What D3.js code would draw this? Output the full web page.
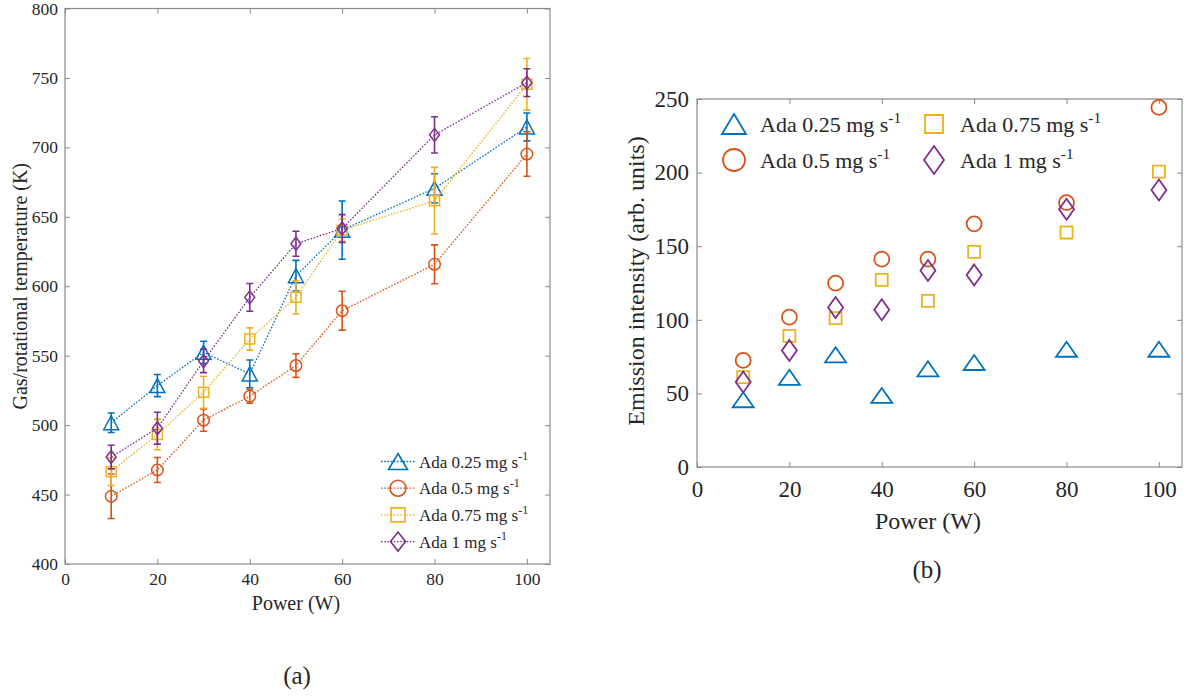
<!DOCTYPE html>
<html>
<head>
<meta charset="utf-8">
<script src="https://cdn.jsdelivr.net/npm/d3@7"></script>
<style>
  html, body { margin: 0; padding: 0; background: #ffffff; }
  svg text { font-family: "Liberation Serif", "Times New Roman", serif; fill: #262626; }
</style>
</head>
<body>
<svg id="fig" width="1190" height="697"></svg>
<script>
// Discharge power settings (W)
const powers = [10, 20, 30, 40, 50, 60, 80, 100];

// Adamantane feed rates (legend labels)
const seriesNames = ["Ada 0.25 mg s", "Ada 0.5 mg s", "Ada 0.75 mg s", "Ada 1 mg s"];
const seriesColors = ["#0072BD", "#D95319", "#EDB120", "#7E2F8E"];
const seriesShapes = ["triangle", "circle", "square", "diamond"];

// (a) Gas/rotational temperature (K) and its uncertainty
const temp025 = [501.7, 528.5, 552.4, 536.9, 607.6, 640.4, 670.5, 714.7];
const temp025Err = [7, 8, 8, 10, 11, 21, 10.5, 10];
const temp05 = [448.8, 467.7, 503.6, 520.8, 542.9, 582.4, 615.8, 695.2];
const temp05Err = [16, 9, 8, 5, 8.5, 14, 14, 16];
const temp075 = [466.5, 493.3, 523.7, 562.0, 592.0, 640.4, 661.6, 745.4];
const temp075Err = [10, 11, 11.5, 8, 12, 8, 24, 18.6];
const temp1 = [477.0, 497.8, 546.2, 592.0, 630.6, 641.6, 709.0, 746.6];
const temp1Err = [8.5, 11.5, 8.4, 10, 9, 10, 13, 10];

// (b) Emission intensity (arb. units)
const emis025 = [45.7, 60.9, 76.2, 48.6, 66.7, 71.0, 80.0, 80.0];
const emis05 = [72.4, 101.8, 124.9, 141.2, 141.2, 165.2, 179.6, 244.3];
const emis075 = [61.1, 89.1, 101.1, 127.1, 112.9, 146.2, 159.3, 200.7];
const emis1 = [57.7, 79.2, 108.4, 106.8, 133.5, 130.5, 175.1, 188.2];

// Tick labels
const xTicks = [0, 20, 40, 60, 80, 100];
const tempTicks = [400, 450, 500, 550, 600, 650, 700, 750, 800];
const emisTicks = [0, 50, 100, 150, 200, 250];

const tempSeries = [
  { values: temp025, err: temp025Err },
  { values: temp05, err: temp05Err },
  { values: temp075, err: temp075Err },
  { values: temp1, err: temp1Err }
];
const emisSeries = [emis025, emis05, emis075, emis1];

const svg = d3.select("#fig");
svg.append("rect").attr("width", 1190).attr("height", 697).attr("fill", "#fff");

const AXIS_COLOR = "#8a8a8a";

// Open marker outline of a given shape, size w x h, centred on (cx, cy)
function markerPath(shape, cx, cy, w, h) {
  const p = d3.path();
  if (shape === "triangle") {
    p.moveTo(cx, cy - h / 2);
    p.lineTo(cx + w / 2, cy + h / 2);
    p.lineTo(cx - w / 2, cy + h / 2);
    p.closePath();
  } else if (shape === "circle") {
    p.moveTo(cx + w / 2, cy);
    p.arc(cx, cy, w / 2, 0, 2 * Math.PI);
  } else if (shape === "square") {
    p.rect(cx - w / 2, cy - h / 2, w, h);
  } else {
    p.moveTo(cx, cy - h / 2);
    p.lineTo(cx + w / 2, cy);
    p.lineTo(cx, cy + h / 2);
    p.lineTo(cx - w / 2, cy);
    p.closePath();
  }
  return p.toString();
}

// Legend/label text with a "-1" superscript
function labelWithSup(sel, text, size) {
  sel.append("tspan").text(text);
  sel.append("tspan").attr("dy", -0.42 * size).attr("font-size", size * 0.7).text("-1");
}

// Boxed axes with inward ticks on all four sides
function drawFrame(g, x, y, xt, yt, fontSize, xPad, yPad) {
  const [x0, x1] = x.range();
  const [y0, y1] = y.range();
  const bottom = g.append("g").attr("transform", `translate(0,${y0})`)
    .call(d3.axisBottom(x).tickValues(xt).tickSizeInner(-5).tickSizeOuter(0).tickPadding(xPad));
  const top = g.append("g").attr("transform", `translate(0,${y1})`)
    .call(d3.axisTop(x).tickValues(xt).tickSizeInner(-5).tickSizeOuter(0).tickFormat(""));
  const left = g.append("g").attr("transform", `translate(${x0},0)`)
    .call(d3.axisLeft(y).tickValues(yt).tickSizeInner(-5).tickSizeOuter(0).tickPadding(yPad));
  const right = g.append("g").attr("transform", `translate(${x1},0)`)
    .call(d3.axisRight(y).tickValues(yt).tickSizeInner(-5).tickSizeOuter(0).tickFormat(""));
  [bottom, top, left, right].forEach(a => {
    a.select(".domain").remove();
    a.selectAll(".tick line").attr("stroke", AXIS_COLOR).attr("stroke-width", 1);
    a.selectAll(".tick text").attr("font-size", fontSize)
      .attr("font-family", "Liberation Serif, serif").attr("fill", "#262626");
  });
  g.append("rect").attr("x", x0).attr("y", y1).attr("width", x1 - x0).attr("height", y0 - y1)
    .attr("fill", "none").attr("stroke", AXIS_COLOR).attr("stroke-width", 1.2);
}

// ---------- (a) temperature panel ----------
const xa = d3.scaleLinear().domain([0, 105]).range([65, 550]);
const ya = d3.scaleLinear().domain([400, 800]).range([564, 8.5]);
const ga = svg.append("g");
drawFrame(ga, xa, ya, xTicks, tempTicks, 17.5, 9, 7);

ga.append("text").attr("x", xa(50)).attr("y", 610).attr("text-anchor", "middle")
  .attr("font-size", 20).text("Power (W)");
ga.append("text").attr("transform", `translate(27,${ya(600)}) rotate(-90)`)
  .attr("text-anchor", "middle").attr("font-size", 20).text("Gas/rotational temperature (K)");
svg.append("text").attr("x", 297).attr("y", 684).attr("text-anchor", "middle")
  .attr("font-size", 25).text("(a)");

const lineA = d3.line().x(d => xa(d[0])).y(d => ya(d[1]));
const aMarkerSize = {
  triangle: [15, 14], circle: [11.5, 11.5], square: [10, 10], diamond: [10, 13]
};
tempSeries.forEach((s, i) => {
  const col = seriesColors[i];
  const shape = seriesShapes[i];
  const pts = powers.map((p, k) => [p, s.values[k], s.err[k]]);
  const g = ga.append("g");
  g.append("path").datum(pts).attr("d", lineA).attr("fill", "none")
    .attr("stroke", col).attr("stroke-width", 1.3).attr("stroke-dasharray", "1.6,1.6");
  // error bars
  g.selectAll("path.err").data(pts).join("path").attr("class", "err")
    .attr("d", d => {
      const cx = xa(d[0]), t = ya(d[1] + d[2]), b = ya(d[1] - d[2]);
      return `M${cx},${t}V${b}M${cx - 3.5},${t}H${cx + 3.5}M${cx - 3.5},${b}H${cx + 3.5}`;
    })
    .attr("fill", "none").attr("stroke", col).attr("stroke-width", 1.6);
  const [mw, mh] = aMarkerSize[shape];
  g.selectAll("path.mk").data(pts).join("path").attr("class", "mk")
    .attr("d", d => markerPath(shape, xa(d[0]), ya(d[1]), mw, mh))
    .attr("fill", "none").attr("stroke", col).attr("stroke-width", 1.5);
});

// legend (a)
const legA = ga.append("g");
seriesNames.forEach((name, i) => {
  const cy = 461.5 + i * 26.7;
  const col = seriesColors[i];
  legA.append("line").attr("x1", 381).attr("x2", 416).attr("y1", cy).attr("y2", cy)
    .attr("stroke", col).attr("stroke-width", 1.3).attr("stroke-dasharray", "1.6,1.6");
  const sz = { triangle: [19, 16], circle: [16, 16], square: [14, 14], diamond: [15, 19] }[seriesShapes[i]];
  legA.append("path").attr("d", markerPath(seriesShapes[i], 398, cy, sz[0], sz[1]))
    .attr("fill", "none").attr("stroke", col).attr("stroke-width", 1.6);
  const t = legA.append("text").attr("x", 419).attr("y", cy + 6).attr("font-size", 17);
  labelWithSup(t, name, 17);
});

// ---------- (b) emission panel ----------
const xb = d3.scaleLinear().domain([0, 105]).range([697, 1182]);
const yb = d3.scaleLinear().domain([0, 250]).range([467, 99]);
const gb = svg.append("g");
drawFrame(gb, xb, yb, xTicks, emisTicks, 23, 14, 8);

gb.append("text").attr("x", xb(50)).attr("y", 529).attr("text-anchor", "middle")
  .attr("font-size", 24).text("Power (W)");
gb.append("text").attr("transform", `translate(644,${yb(125) - 2}) rotate(-90)`)
  .attr("text-anchor", "middle").attr("font-size", 24).text("Emission intensity (arb. units)");
svg.append("text").attr("x", 927).attr("y", 578).attr("text-anchor", "middle")
  .attr("font-size", 25).text("(b)");

const bMarkerSize = {
  triangle: [21, 15], circle: [15, 15], square: [12, 12], diamond: [15, 21]
};
emisSeries.forEach((vals, i) => {
  const col = seriesColors[i];
  const shape = seriesShapes[i];
  const [mw, mh] = bMarkerSize[shape];
  gb.append("g").selectAll("path").data(powers.map((p, k) => [p, vals[k]])).join("path")
    .attr("d", d => markerPath(shape, xb(d[0]), yb(d[1]), mw, mh))
    .attr("fill", "none").attr("stroke", col).attr("stroke-width", 1.8);
});

// legend (b), two columns
const legB = gb.append("g");
const legBPos = [[734, 124], [734, 160], [934, 124], [934, 160]];
seriesNames.forEach((name, i) => {
  const [cx, cy] = legBPos[i];
  const col = seriesColors[i];
  const sz = { triangle: [24, 20], circle: [22, 22], square: [18, 18], diamond: [20, 28] }[seriesShapes[i]];
  legB.append("path").attr("d", markerPath(seriesShapes[i], cx, cy, sz[0], sz[1]))
    .attr("fill", "none").attr("stroke", col).attr("stroke-width", 1.8);
  const t = legB.append("text").attr("x", cx + 26).attr("y", cy + 8).attr("font-size", 22);
  labelWithSup(t, name, 22);
});
</script>
</body>
</html>
